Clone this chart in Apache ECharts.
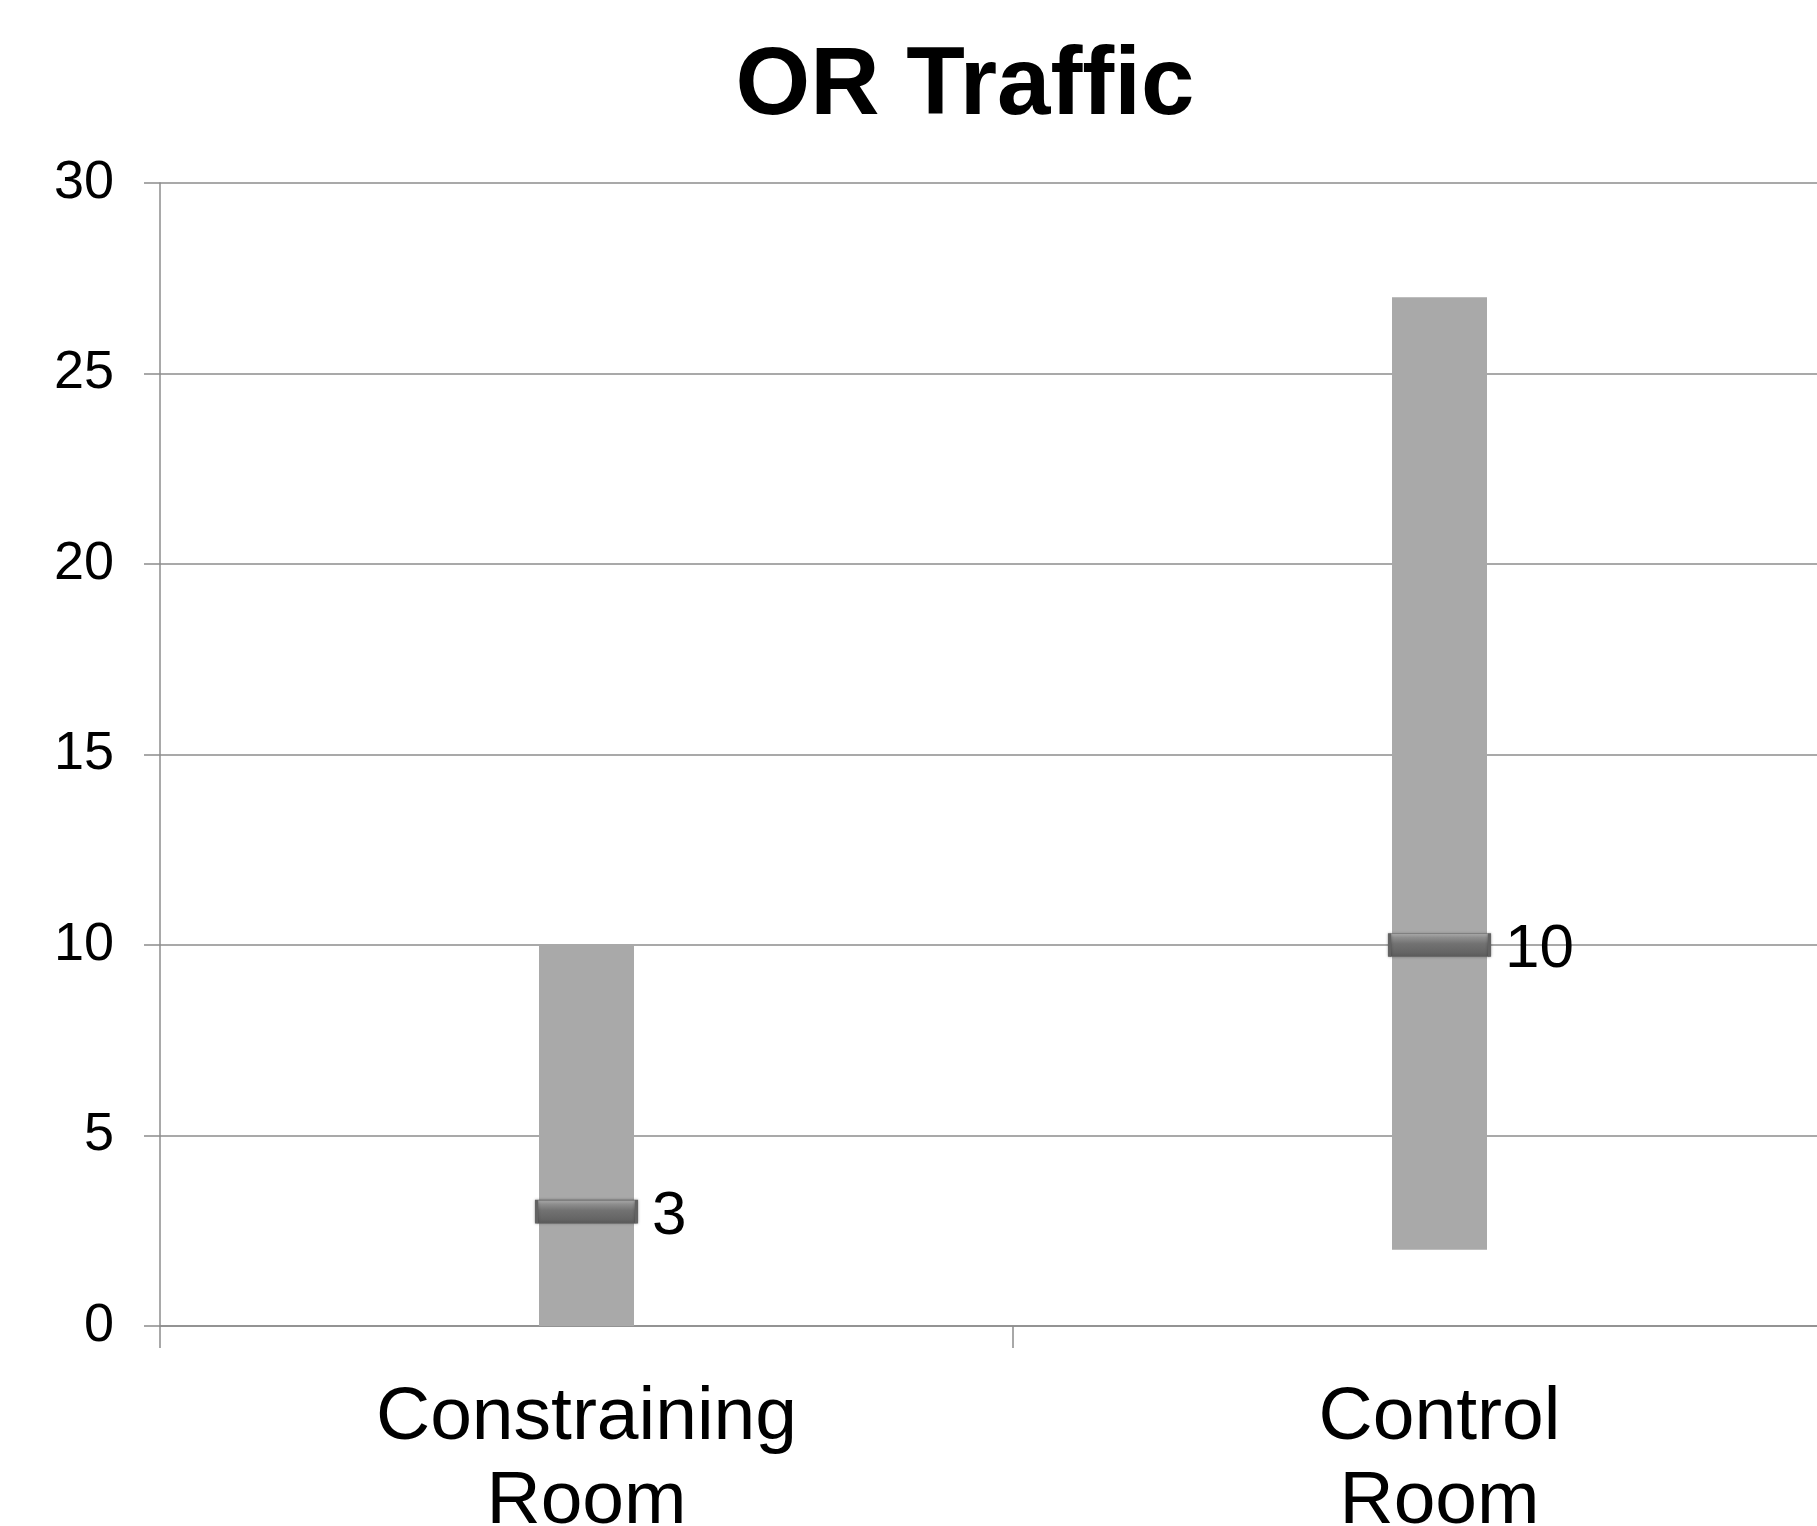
<!DOCTYPE html>
<html>
<head>
<meta charset="utf-8">
<script src="https://cdn.jsdelivr.net/npm/echarts@6/dist/echarts.min.js"></script>
<style>
html,body{margin:0;padding:0;background:#fff;}
#chart{width:1817px;height:1526px;}
</style>
</head>
<body>
<div id="chart"></div>
<script>
const categories = ['Constraining\nRoom', 'Control\nRoom'];
const lowValues = [0, 2];
const highValues = [10, 27];
const medianValues = [3, 10];
const yTicks = { min: 0, max: 30, interval: 5 };

const FONT = '"Liberation Sans", Arial, sans-serif';
const chart = echarts.init(document.getElementById('chart'));

chart.setOption({
  animation: false,
  backgroundColor: '#ffffff',
  title: {
    text: 'OR Traffic',
    left: 960,
    textAlign: 'center',
    top: 35,
    textStyle: { fontFamily: FONT, fontSize: 96, fontWeight: 'bold', color: '#000' }
  },
  grid: { left: 160, top: 183, width: 1706, height: 1143, containLabel: false, outerBoundsMode: 'none' },
  xAxis: {
    type: 'category',
    data: categories,
    axisLine: { show: true, lineStyle: { color: '#8c8c8c', width: 1.5 } },
    axisTick: { show: true, alignWithLabel: false, length: 22, lineStyle: { color: '#8c8c8c', width: 1.5 } },
    axisLabel: { fontFamily: FONT, fontSize: 75, lineHeight: 84, color: '#000', margin: 50, interval: 0 }
  },
  yAxis: {
    type: 'value',
    min: yTicks.min, max: yTicks.max, interval: yTicks.interval,
    axisLine: { show: true, lineStyle: { color: '#8c8c8c', width: 1.5 } },
    axisTick: { show: true, length: 16, lineStyle: { color: '#8c8c8c', width: 1.5 } },
    splitLine: { show: true, lineStyle: { color: '#8c8c8c', width: 1.5 } },
    axisLabel: { fontFamily: FONT, fontSize: 54, color: '#000', margin: 46 }
  },
  series: [
    {
      type: 'bar', stack: 'range', barWidth: 95,
      itemStyle: { color: 'transparent' },
      data: lowValues
    },
    {
      type: 'bar', stack: 'range', barWidth: 95,
      itemStyle: { color: '#a9a9a9' },
      data: highValues.map((h, i) => h - lowValues[i])
    },
    {
      type: 'scatter',
      symbol: 'rect',
      symbolSize: [100, 23],
      z: 5,
      itemStyle: {
        opacity: 1,
        color: new echarts.graphic.LinearGradient(0, 0, 0, 1, [
          { offset: 0, color: '#b4b4b4' },
          { offset: 0.18, color: '#8e8e8e' },
          { offset: 0.45, color: '#727272' },
          { offset: 1, color: '#5e5e5e' }
        ]),
        borderColor: '#636363',
        borderWidth: 1.5,
        shadowColor: 'rgba(0,0,0,0.3)',
        shadowBlur: 3
      },
      label: {
        show: true, position: 'right', distance: 14, offset: [0, 5],
        fontFamily: FONT, fontSize: 62, color: '#000',
        formatter: p => p.value[1]
      },
      data: medianValues.map((v, i) => [i, v])
    }
  ]
});
</script>
</body>
</html>
